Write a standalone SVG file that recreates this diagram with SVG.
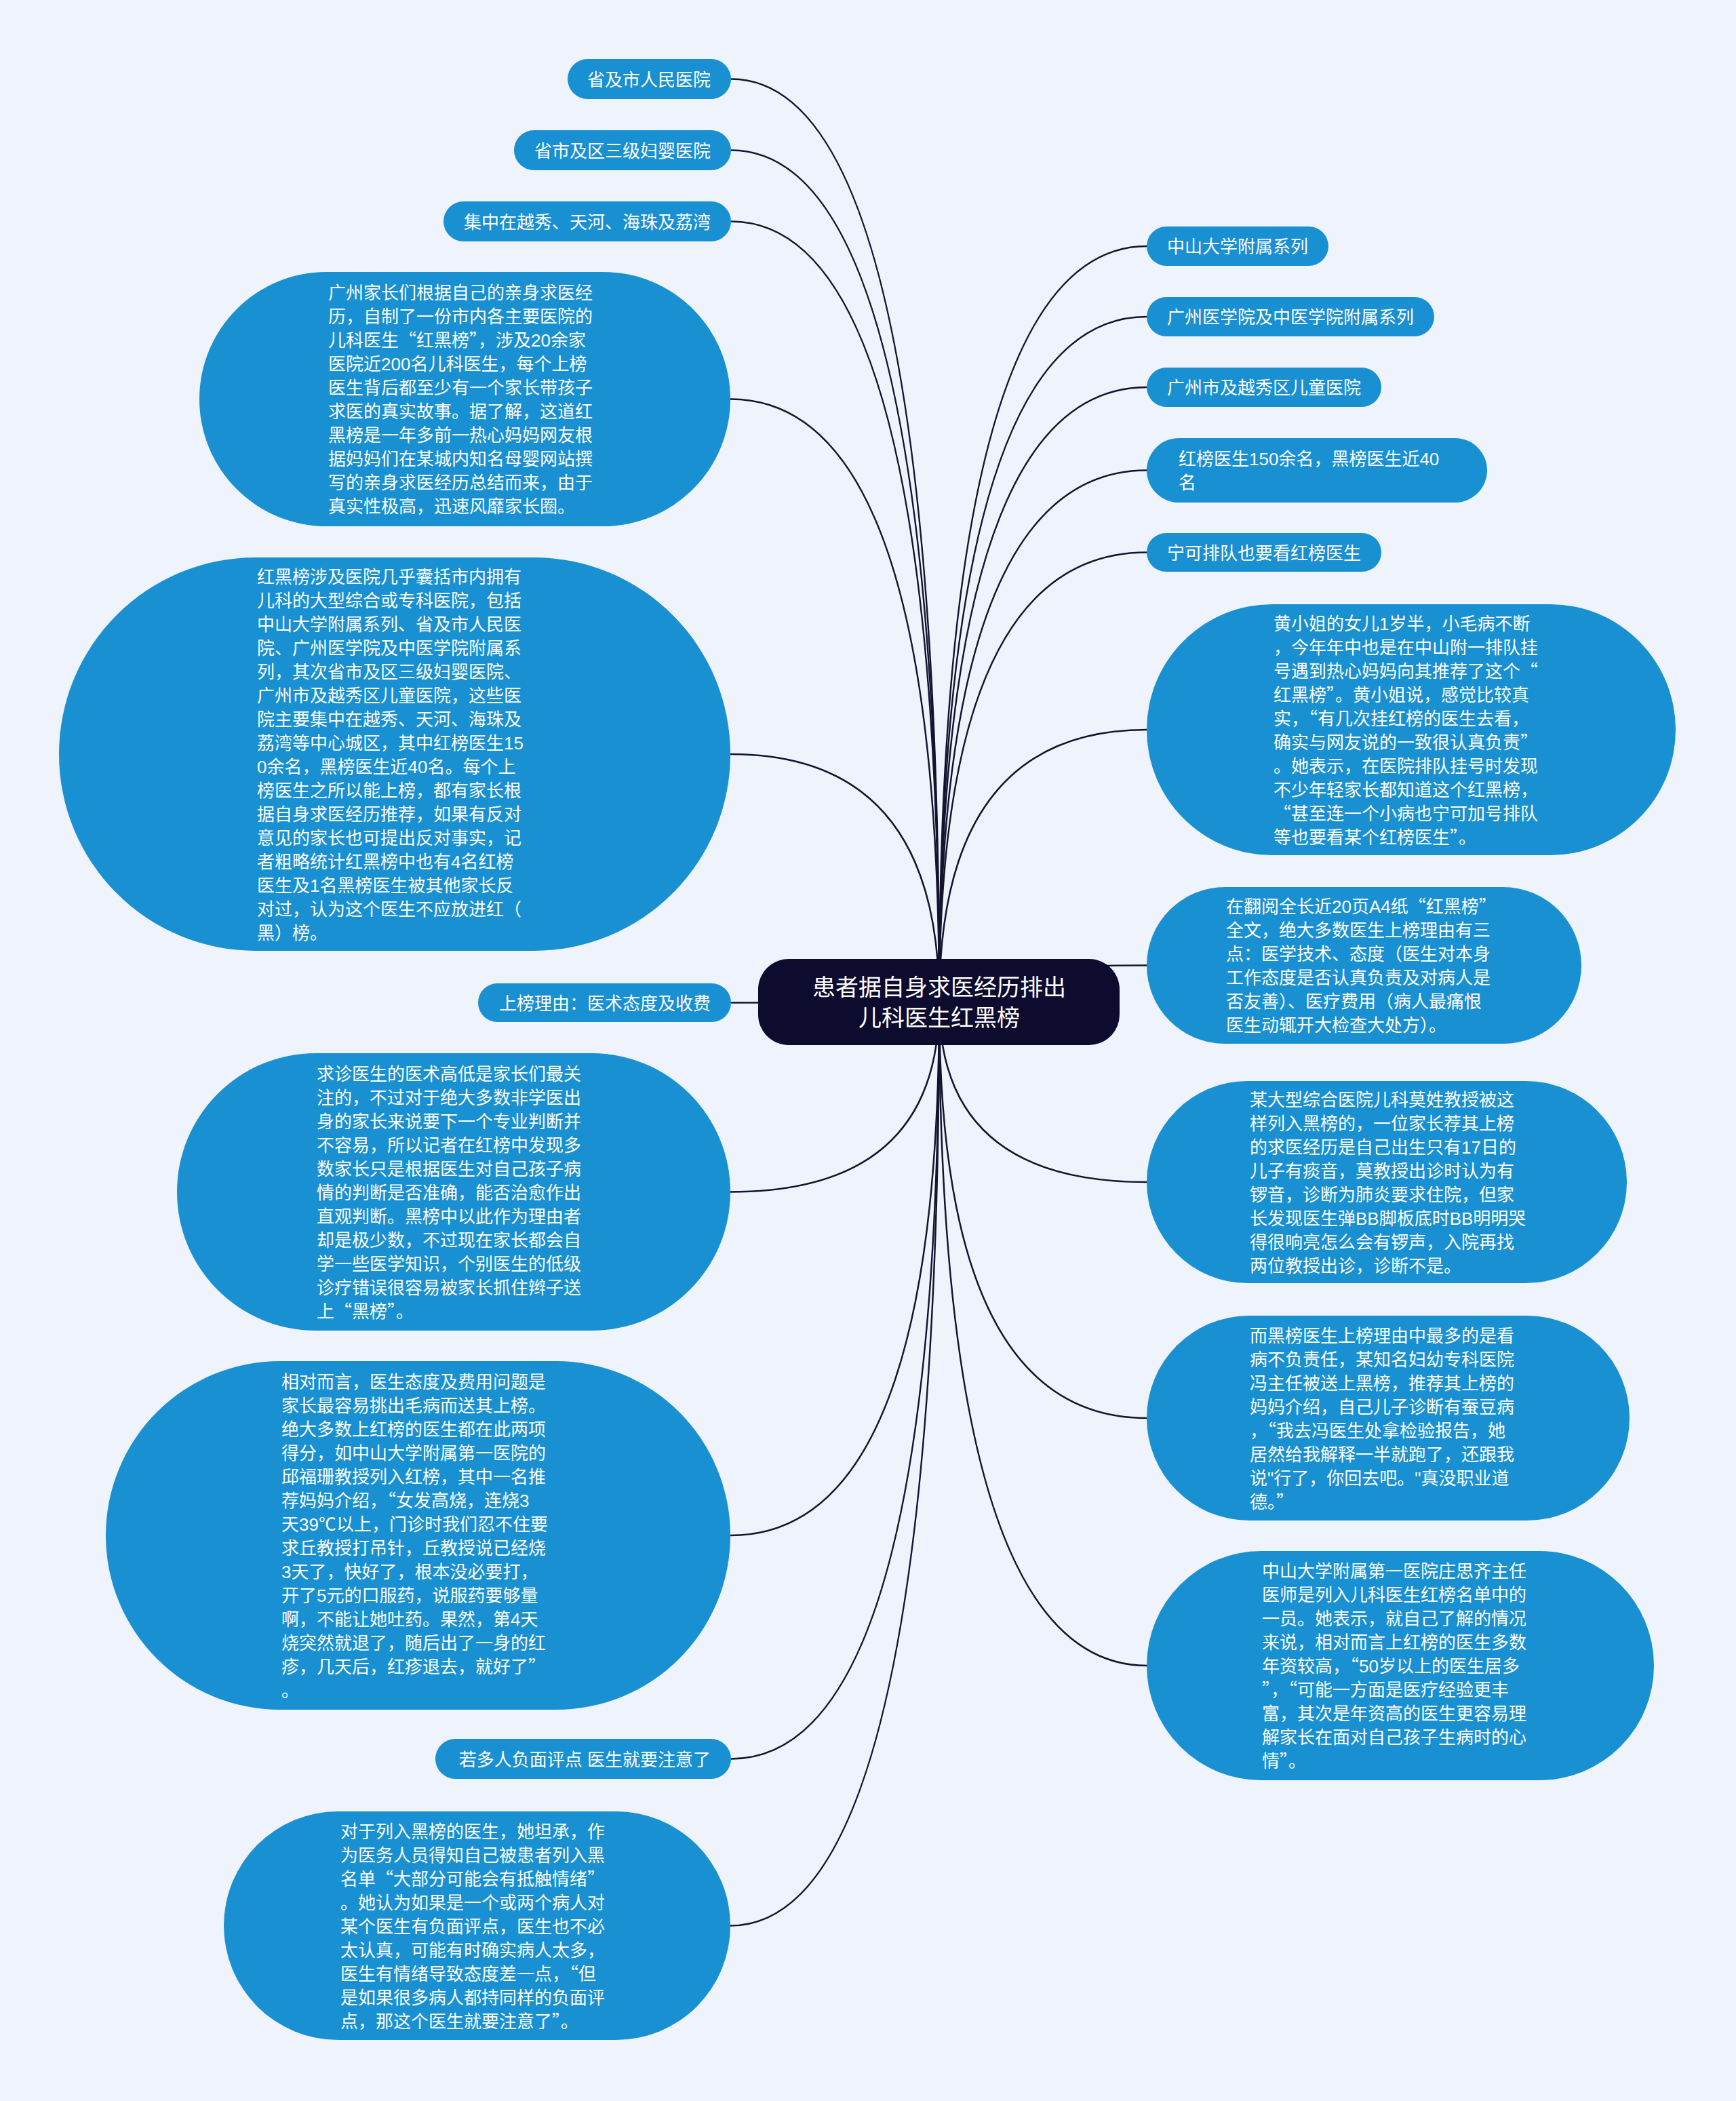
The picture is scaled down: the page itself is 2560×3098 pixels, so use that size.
<svg xmlns="http://www.w3.org/2000/svg" width="2560" height="3098" viewBox="0 0 2560 3098">
<style>
.node rect{fill:#1990d2}
.t{fill:#ffffff;font-size:26px;font-family:"Liberation Sans","Noto Sans CJK SC",sans-serif}
.q{font-family:"Noto Sans CJK SC","Liberation Sans",sans-serif}
.e{text-anchor:end}
.conn path{fill:none;stroke:#15142e;stroke-width:2.5}
.center rect{fill:#0d0b2e}
.ct{fill:#ffffff;font-size:34px;font-family:"Liberation Sans","Noto Sans CJK SC",sans-serif;text-anchor:middle}
</style>
<rect x="0" y="0" width="2560" height="3098" fill="#eef3fc"/>
<g id="connectors" class="conn">
<path d="M1385,1478 Q1385,116.5 1078,116.5"/>
<path d="M1385,1478 Q1385,221.5 1078,221.5"/>
<path d="M1385,1478 Q1385,326.5 1078,326.5"/>
<path d="M1385,1478 Q1385,588.5 1077,588.5"/>
<path d="M1385,1478 Q1385,1112 1077,1112"/>
<path d="M1385,1478 L1078,1478.5"/>
<path d="M1385,1478 Q1385,1757.5 1077,1757.5"/>
<path d="M1385,1478 Q1385,2264 1077,2264"/>
<path d="M1385,1478 Q1385,2593.5 1078,2593.5"/>
<path d="M1385,1478 Q1385,2839.5 1077,2839.5"/>
<path d="M1385,1478 Q1385,363 1691,363"/>
<path d="M1385,1478 Q1385,467 1691,467"/>
<path d="M1385,1478 Q1385,571 1691,571"/>
<path d="M1385,1478 Q1385,693.5 1691,693.5"/>
<path d="M1385,1478 Q1385,814.5 1691,814.5"/>
<path d="M1385,1478 Q1385,1076 1691,1076"/>
<path d="M1385,1478 Q1385,1423.5 1691,1423.5"/>
<path d="M1385,1478 Q1385,1743 1691,1743"/>
<path d="M1385,1478 Q1385,2091 1691,2091"/>
<path d="M1385,1478 Q1385,2456 1691,2456"/>
</g>
<g id="center" class="center">
<rect x="1118" y="1414" width="533" height="127" rx="45" ry="45"/>
<text class="ct" x="1385" y="1468">患者据自身求医经历排出</text>
<text class="ct" x="1385" y="1513">儿科医生红黑榜</text>
</g>
<g id="L1" class="node"><rect x="837" y="87" width="241" height="59" rx="29.5"/><text class="t e" x="1048" y="126.5">省及市人民医院</text></g>
<g id="L2" class="node"><rect x="758" y="192" width="320" height="59" rx="29.5"/><text class="t e" x="1048" y="231.5">省市及区三级妇婴医院</text></g>
<g id="L3" class="node"><rect x="654" y="297" width="424" height="59" rx="29.5"/><text class="t e" x="1048" y="336.5">集中在越秀、天河、海珠及荔湾</text></g>
<g id="L4" class="node"><rect x="294" y="401" width="783" height="375" rx="187.5"/>
<text class="t" x="484" y="441"><tspan x="484">广州家长们根据自己的亲身求医经</tspan><tspan x="484" dy="35">历，自制了一份市内各主要医院的</tspan><tspan x="484" dy="35">儿科医生<tspan class="q">“</tspan>红黑榜<tspan class="q">”</tspan>，涉及20余家</tspan><tspan x="484" dy="35">医院近200名儿科医生，每个上榜</tspan><tspan x="484" dy="35">医生背后都至少有一个家长带孩子</tspan><tspan x="484" dy="35">求医的真实故事。据了解，这道红</tspan><tspan x="484" dy="35">黑榜是一年多前一热心妈妈网友根</tspan><tspan x="484" dy="35">据妈妈们在某城内知名母婴网站撰</tspan><tspan x="484" dy="35">写的亲身求医经历总结而来，由于</tspan><tspan x="484" dy="35">真实性极高，迅速风靡家长圈。</tspan></text></g>
<g id="L5" class="node"><rect x="87" y="822" width="990" height="580" rx="290"/>
<text class="t" x="379" y="859.5"><tspan x="379">红黑榜涉及医院几乎囊括市内拥有</tspan><tspan x="379" dy="35">儿科的大型综合或专科医院，包括</tspan><tspan x="379" dy="35">中山大学附属系列、省及市人民医</tspan><tspan x="379" dy="35">院、广州医学院及中医学院附属系</tspan><tspan x="379" dy="35">列，其次省市及区三级妇婴医院、</tspan><tspan x="379" dy="35">广州市及越秀区儿童医院，这些医</tspan><tspan x="379" dy="35">院主要集中在越秀、天河、海珠及</tspan><tspan x="379" dy="35">荔湾等中心城区，其中红榜医生15</tspan><tspan x="379" dy="35">0余名，黑榜医生近40名。每个上</tspan><tspan x="379" dy="35">榜医生之所以能上榜，都有家长根</tspan><tspan x="379" dy="35">据自身求医经历推荐，如果有反对</tspan><tspan x="379" dy="35">意见的家长也可提出反对事实，记</tspan><tspan x="379" dy="35">者粗略统计红黑榜中也有4名红榜</tspan><tspan x="379" dy="35">医生及1名黑榜医生被其他家长反</tspan><tspan x="379" dy="35">对过，认为这个医生不应放进红（</tspan><tspan x="379" dy="35">黑）榜。</tspan></text></g>
<g id="L6" class="node"><rect x="705" y="1450" width="373" height="57" rx="28.5"/><text class="t e" x="1048" y="1488.5">上榜理由：医术态度及收费</text></g>
<g id="L7" class="node"><rect x="261" y="1553" width="816" height="409" rx="204.5"/>
<text class="t" x="467" y="1592.5"><tspan x="467">求诊医生的医术高低是家长们最关</tspan><tspan x="467" dy="35">注的，不过对于绝大多数非学医出</tspan><tspan x="467" dy="35">身的家长来说要下一个专业判断并</tspan><tspan x="467" dy="35">不容易，所以记者在红榜中发现多</tspan><tspan x="467" dy="35">数家长只是根据医生对自己孩子病</tspan><tspan x="467" dy="35">情的判断是否准确，能否治愈作出</tspan><tspan x="467" dy="35">直观判断。黑榜中以此作为理由者</tspan><tspan x="467" dy="35">却是极少数，不过现在家长都会自</tspan><tspan x="467" dy="35">学一些医学知识，个别医生的低级</tspan><tspan x="467" dy="35">诊疗错误很容易被家长抓住辫子送</tspan><tspan x="467" dy="35">上<tspan class="q">“</tspan>黑榜<tspan class="q">”</tspan>。</tspan></text></g>
<g id="L8" class="node"><rect x="156" y="2007" width="921" height="514" rx="257"/>
<text class="t" x="415" y="2046.5"><tspan x="415">相对而言，医生态度及费用问题是</tspan><tspan x="415" dy="35">家长最容易挑出毛病而送其上榜。</tspan><tspan x="415" dy="35">绝大多数上红榜的医生都在此两项</tspan><tspan x="415" dy="35">得分，如中山大学附属第一医院的</tspan><tspan x="415" dy="35">邱福珊教授列入红榜，其中一名推</tspan><tspan x="415" dy="35">荐妈妈介绍，<tspan class="q">“</tspan>女发高烧，连烧3</tspan><tspan x="415" dy="35">天39℃以上，门诊时我们忍不住要</tspan><tspan x="415" dy="35">求丘教授打吊针，丘教授说已经烧</tspan><tspan x="415" dy="35">3天了，快好了，根本没必要打，</tspan><tspan x="415" dy="35">开了5元的口服药，说服药要够量</tspan><tspan x="415" dy="35">啊，不能让她吐药。果然，第4天</tspan><tspan x="415" dy="35">烧突然就退了，随后出了一身的红</tspan><tspan x="415" dy="35">疹，几天后，红疹退去，就好了<tspan class="q">”</tspan></tspan><tspan x="415" dy="35">。</tspan></text></g>
<g id="L9" class="node"><rect x="642" y="2564" width="436" height="59" rx="29.5"/><text class="t e" x="1048" y="2603.5">若多人负面评点 医生就要注意了</text></g>
<g id="L10" class="node"><rect x="330" y="2671" width="747" height="337" rx="168.5"/>
<text class="t" x="502" y="2709.5"><tspan x="502">对于列入黑榜的医生，她坦承，作</tspan><tspan x="502" dy="35">为医务人员得知自己被患者列入黑</tspan><tspan x="502" dy="35">名单<tspan class="q">“</tspan>大部分可能会有抵触情绪<tspan class="q">”</tspan></tspan><tspan x="502" dy="35">。她认为如果是一个或两个病人对</tspan><tspan x="502" dy="35">某个医生有负面评点，医生也不必</tspan><tspan x="502" dy="35">太认真，可能有时确实病人太多，</tspan><tspan x="502" dy="35">医生有情绪导致态度差一点，<tspan class="q">“</tspan>但</tspan><tspan x="502" dy="35">是如果很多病人都持同样的负面评</tspan><tspan x="502" dy="35">点，那这个医生就要注意了<tspan class="q">”</tspan>。</tspan></text></g>
<g id="R1" class="node"><rect x="1691" y="334" width="268" height="58" rx="29"/><text class="t" x="1721" y="373">中山大学附属系列</text></g>
<g id="R2" class="node"><rect x="1691" y="438" width="424" height="58" rx="29"/><text class="t" x="1721" y="477">广州医学院及中医学院附属系列</text></g>
<g id="R3" class="node"><rect x="1691" y="542" width="346" height="58" rx="29"/><text class="t" x="1721" y="581">广州市及越秀区儿童医院</text></g>
<g id="R4" class="node"><rect x="1691" y="646" width="502" height="95" rx="47.5"/>
<text class="t" x="1738" y="686"><tspan x="1738">红榜医生150余名，黑榜医生近40</tspan><tspan x="1738" dy="35">名</tspan></text></g>
<g id="R5" class="node"><rect x="1691" y="786" width="346" height="57" rx="28.5"/><text class="t" x="1721" y="824.5">宁可排队也要看红榜医生</text></g>
<g id="R6" class="node"><rect x="1691" y="891" width="780" height="370" rx="185"/>
<text class="t" x="1878" y="928.5"><tspan x="1878">黄小姐的女儿1岁半，小毛病不断</tspan><tspan x="1878" dy="35">，今年年中也是在中山附一排队挂</tspan><tspan x="1878" dy="35">号遇到热心妈妈向其推荐了这个<tspan class="q">“</tspan></tspan><tspan x="1878" dy="35">红黑榜<tspan class="q">”</tspan>。黄小姐说，感觉比较真</tspan><tspan x="1878" dy="35">实，<tspan class="q">“</tspan>有几次挂红榜的医生去看，</tspan><tspan x="1878" dy="35">确实与网友说的一致很认真负责<tspan class="q">”</tspan></tspan><tspan x="1878" dy="35">。她表示，在医院排队挂号时发现</tspan><tspan x="1878" dy="35">不少年轻家长都知道这个红黑榜，</tspan><tspan x="1878" dy="35"><tspan class="q">“</tspan>甚至连一个小病也宁可加号排队</tspan><tspan x="1878" dy="35">等也要看某个红榜医生<tspan class="q">”</tspan>。</tspan></text></g>
<g id="R7" class="node"><rect x="1691" y="1308" width="641" height="231" rx="115.5"/>
<text class="t" x="1808" y="1346"><tspan x="1808">在翻阅全长近20页A4纸<tspan class="q">“</tspan>红黑榜<tspan class="q">”</tspan></tspan><tspan x="1808" dy="35">全文，绝大多数医生上榜理由有三</tspan><tspan x="1808" dy="35">点：医学技术、态度（医生对本身</tspan><tspan x="1808" dy="35">工作态度是否认真负责及对病人是</tspan><tspan x="1808" dy="35">否友善）、医疗费用（病人最痛恨</tspan><tspan x="1808" dy="35">医生动辄开大检查大处方）。</tspan></text></g>
<g id="R8" class="node"><rect x="1691" y="1594" width="708" height="298" rx="149"/>
<text class="t" x="1843" y="1630.5"><tspan x="1843">某大型综合医院儿科莫姓教授被这</tspan><tspan x="1843" dy="35">样列入黑榜的，一位家长荐其上榜</tspan><tspan x="1843" dy="35">的求医经历是自己出生只有17日的</tspan><tspan x="1843" dy="35">儿子有痰音，莫教授出诊时认为有</tspan><tspan x="1843" dy="35">锣音，诊断为肺炎要求住院，但家</tspan><tspan x="1843" dy="35">长发现医生弹BB脚板底时BB明明哭</tspan><tspan x="1843" dy="35">得很响亮怎么会有锣声，入院再找</tspan><tspan x="1843" dy="35">两位教授出诊，诊断不是。</tspan></text></g>
<g id="R9" class="node"><rect x="1691" y="1940" width="712" height="302" rx="151"/>
<text class="t" x="1843" y="1978.5"><tspan x="1843">而黑榜医生上榜理由中最多的是看</tspan><tspan x="1843" dy="35">病不负责任，某知名妇幼专科医院</tspan><tspan x="1843" dy="35">冯主任被送上黑榜，推荐其上榜的</tspan><tspan x="1843" dy="35">妈妈介绍，自己儿子诊断有蚕豆病</tspan><tspan x="1843" dy="35">，<tspan class="q">“</tspan>我去冯医生处拿检验报告，她</tspan><tspan x="1843" dy="35">居然给我解释一半就跑了，还跟我</tspan><tspan x="1843" dy="35">说"行了，你回去吧。"真没职业道</tspan><tspan x="1843" dy="35">德。<tspan class="q">”</tspan></tspan></text></g>
<g id="R10" class="node"><rect x="1691" y="2287" width="748" height="338" rx="169"/>
<text class="t" x="1861" y="2326"><tspan x="1861">中山大学附属第一医院庄思齐主任</tspan><tspan x="1861" dy="35">医师是列入儿科医生红榜名单中的</tspan><tspan x="1861" dy="35">一员。她表示，就自己了解的情况</tspan><tspan x="1861" dy="35">来说，相对而言上红榜的医生多数</tspan><tspan x="1861" dy="35">年资较高，<tspan class="q">“</tspan>50岁以上的医生居多</tspan><tspan x="1861" dy="35"><tspan class="q">”</tspan>，<tspan class="q">“</tspan>可能一方面是医疗经验更丰</tspan><tspan x="1861" dy="35">富，其次是年资高的医生更容易理</tspan><tspan x="1861" dy="35">解家长在面对自己孩子生病时的心</tspan><tspan x="1861" dy="35">情<tspan class="q">”</tspan>。</tspan></text></g>
</svg>
